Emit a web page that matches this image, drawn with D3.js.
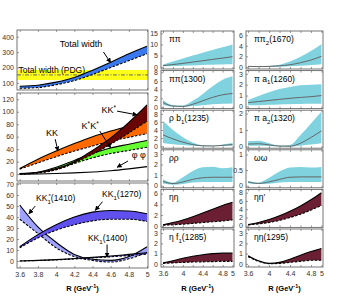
<!DOCTYPE html>
<html><head><meta charset="utf-8">
<script src="https://cdn.jsdelivr.net/npm/d3@7"></script>
<style>body{margin:0;background:#fff}svg{display:block;font-family:"Liberation Sans",Arial,sans-serif}</style>
</head><body><svg id="c" width="337" height="301"></svg>
<script>
// R grid (GeV^-1)
const R = [3.6, 3.8, 4.0, 4.2, 4.4, 4.6, 4.8, 5.0];
const xTicks = [3.6, 3.8, 4.0, 4.2, 4.4, 4.6, 4.8, 5.0];
const xLabsWide = ["3.6", "3.8", "4", "4.2", "4.4", "4.6", "4.8", "5"];
const xLabsNarrow = ["3.6", "", "4", "", "4.4", "", "4.8", "5"];

// left top: total width
const totUp = [78, 85, 105, 135, 183, 235, 290, 338];
const totLo = [65, 70, 88, 115, 155, 200, 245, 290];
const pdgRange = [119, 184];
const pdgMid = 152;

// left middle
const kkUp = [9, 24, 37, 49, 60, 69, 77, 85];
const kkLo = [8, 18, 28, 37, 45, 53, 59, 65];
const kkStUp = [1, 3, 9, 20, 38, 58, 83, 111];
const kkStLo = [0, 2, 7, 18, 32, 48, 66, 85];
const kStkStUp = [0.5, 3, 11, 22, 33, 42, 48, 54];
const kStkStLo = [0, 2, 7, 17, 26, 33, 38, 43];
const phiphi = [0, 0.3, 1, 2, 3.5, 5.5, 8.5, 12];

// left bottom
const kk1270Up = [13, 24, 33, 40, 44.5, 46, 45.5, 43];
const kk1270Lo = [12, 21, 28, 33, 36.5, 38, 38, 36];
const kk1410Up = [51, 31, 17, 6, 1.5, 0.5, 4, 13];
const kk1410Lo = [38, 25, 12, 4, 0.5, -1, 2, 8];
const kk1400Up = [0, 0.5, 1.2, 2.2, 3.3, 4.5, 6, 7.5];
const kk1400Lo = [0, 0.4, 1, 1.8, 2.8, 3.8, 5, 6.3];

// middle column
const pipiUp = [1, 2.3, 3.7, 5, 6.3, 7.5, 8.7, 10];
const pipiC = [0.5, 1, 1.5, 2.1, 2.7, 3.3, 3.9, 4.5];
const pipiLo = [0.2, 0.3, 0.5, 0.6, 0.8, 0.9, 1, 1.1];
const pi1300Up = [1.6, 0.4, 0.3, 1.4, 3, 4.8, 6.3, 7.1];
const pi1300C = [1, 0.2, 0.1, 0.6, 1.4, 2.2, 2.8, 3.1];
const pi1300Lo = [0.5, 0.05, 0, 0.2, 0.4, 0.6, 0.7, 0.8];
const rhob1Up = [6.2, 4, 2.2, 0.9, 0.2, 0.1, 0.4, 0.8];
const rhob1C = [2.8, 1.8, 1, 0.4, 0.1, 0.05, 0.2, 0.4];
const rhob1Lo = [0.8, 0.5, 0.3, 0.1, 0, 0, 0.05, 0.1];
const rhorhoUp = [0.6, 0.3, 0.8, 1.4, 1.75, 1.8, 1.65, 1.75];
const rhorhoC = [0.4, 0.2, 0.35, 0.6, 0.75, 0.8, 0.8, 0.8];
const rhorhoLo = [0.2, 0.1, 0.15, 0.3, 0.35, 0.35, 0.35, 0.35];
const etaetaUp = [0.2, 0.6, 1.1, 1.7, 2.4, 3.1, 3.8, 4.4];
const etaetaLo = [0.1, 0.2, 0.3, 0.45, 0.6, 0.75, 0.9, 1.1];
const etaf1Up = [0.1, 0.3, 0.55, 0.75, 0.9, 1, 1.05, 1.05];
const etaf1Lo = [0.05, 0.1, 0.15, 0.18, 0.2, 0.22, 0.25, 0.25];

// right column
const pi1670Up = [0.1, 0.1, 0.15, 0.4, 1, 1.9, 3, 4.3];
const pi1670C = [0.1, 0.05, 0.1, 0.2, 0.4, 0.8, 1.3, 2];
const pi1670Lo = [0, 0, 0, 0.05, 0.1, 0.2, 0.35, 0.5];
const pia1Up = [0.6, 0.95, 1.3, 1.6, 1.8, 1.95, 2, 2.05];
const pia1C = [0.35, 0.45, 0.55, 0.65, 0.75, 0.83, 0.9, 1];
const pia1Lo = [0.1, 0.12, 0.15, 0.18, 0.2, 0.22, 0.24, 0.25];
const pia2Up = [0.32, 0.35, 0.2, 0.06, 0.1, 0.7, 1.4, 2.1];
const pia2C = [0.15, 0.17, 0.1, 0.03, 0.02, 0.2, 0.55, 0.95];
const pia2Lo = [0.05, 0.05, 0.04, 0.01, 0, 0.05, 0.12, 0.2];
const omegaUp = [0.15, 0.1, 0.25, 0.45, 0.58, 0.6, 0.58, 0.6];
const omegaC = [0.12, 0.07, 0.12, 0.2, 0.27, 0.28, 0.28, 0.28];
const omegaLo = [0.08, 0.05, 0.06, 0.1, 0.12, 0.12, 0.12, 0.12];
const etaetapUp = [0.3, 0.8, 1.5, 2.4, 3.5, 4.8, 6.3, 8];
const etaetapLo = [0.2, 0.45, 0.8, 1.3, 2, 2.8, 3.8, 4.9];
const eta1295Up = [0.8, 0.3, 0.05, 0.15, 0.45, 0.85, 1.2, 1.5];
const eta1295Lo = [0.7, 0.25, 0.02, 0.05, 0.15, 0.25, 0.35, 0.35];

const svg = d3.select("#c");
const defs = svg.append("defs");
defs.append("marker").attr("id", "ah").attr("viewBox", "0 0 10 10")
  .attr("refX", 9).attr("refY", 5).attr("markerWidth", 5).attr("markerHeight", 5)
  .attr("orient", "auto").append("path").attr("d", "M0,0L10,5L0,10z").attr("fill", "#000");

let clipN = 0;
function panel(x0, x1, y0, y1, xdom, ydom, yticks, ylabs, xlabs) {
  const x = d3.scaleLinear().domain(xdom).range([x0, x1]);
  const y = d3.scaleLinear().domain(ydom).range([y1, y0]);
  const id = "cl" + (clipN++);
  defs.append("clipPath").attr("id", id).append("rect")
    .attr("x", x0).attr("y", y0).attr("width", x1 - x0).attr("height", y1 - y0);
  const g = svg.append("g");
  const plot = g.append("g").attr("clip-path", `url(#${id})`);

  const ya = g.append("g").attr("transform", `translate(${x0},0)`)
    .call(d3.axisLeft(y).tickValues(yticks).tickSize(-2).tickPadding(3)
      .tickFormat((d, i) => ylabs ? ylabs[i] : d));
  const xb = g.append("g").attr("transform", `translate(0,${y1})`)
    .call(d3.axisBottom(x).tickValues(xTicks).tickSize(-2).tickPadding(4)
      .tickFormat((d, i) => xlabs ? xlabs[i] : ""));
  const xt = g.append("g").attr("transform", `translate(0,${y0})`)
    .call(d3.axisTop(x).tickValues(xTicks).tickSize(-2).tickFormat(""));
  [ya, xb, xt].forEach(a => {
    a.select(".domain").remove();
    a.selectAll("line").attr("stroke", "#555").attr("stroke-width", 0.6);
    a.selectAll("text").attr("font-size", 7).attr("fill", "#333")
      .attr("font-family", "Liberation Sans, Arial, sans-serif");
  });
  const frame = g.append("rect").attr("x", x0).attr("y", y0)
    .attr("width", x1 - x0).attr("height", y1 - y0)
    .attr("fill", "none").attr("stroke", "#666").attr("stroke-width", 0.9);
  return { g, plot, x, y, frame };
}

function pts(lo, up) { return R.map((r, i) => ({ r, lo: lo[i], up: up[i] })); }

function band(p, lo, up, fill, edges) {
  const data = pts(lo, up);
  p.plot.append("path").datum(data).attr("fill", fill)
    .attr("d", d3.area().x(d => p.x(d.r)).y0(d => p.y(d.lo)).y1(d => p.y(d.up)).curve(d3.curveMonotoneX));
  if (edges) {
    line(p, up, "#000", 1.1, null);
    line(p, lo, "#000", 1.1, "2.5,1.5");
  }
}

function line(p, vals, color, w, dash) {
  p.plot.append("path").datum(R.map((r, i) => ({ r, v: vals[i] })))
    .attr("fill", "none").attr("stroke", color).attr("stroke-width", w)
    .attr("stroke-dasharray", dash)
    .attr("d", d3.line().x(d => p.x(d.r)).y(d => p.y(d.v)).curve(d3.curveMonotoneX));
}

// rich text: parts = [[text, "n"|"sub"|"sup"]]
function rich(sel, x, y, parts, size, anchor) {
  const t = sel.append("text").attr("x", x).attr("y", y).attr("font-size", size)
    .attr("fill", "#000").attr("text-anchor", anchor || "start");
  let shift = 0;
  parts.forEach(([s, k]) => {
    const target = k === "sub" ? size * 0.3 : k === "sup" ? -size * 0.38 : 0;
    t.append("tspan").attr("dy", target - shift)
      .attr("font-size", k === "n" ? size : size * 0.72).text(s);
    shift = target;
  });
  return t;
}

function arrow(p, a, b) {
  p.g.append("line").attr("x1", p.x(a[0])).attr("y1", p.y(a[1]))
    .attr("x2", p.x(b[0])).attr("y2", p.y(b[1]))
    .attr("stroke", "#000").attr("stroke-width", 1).attr("marker-end", "url(#ah)");
}

const LX = [3.57, 5.01];
// ---- left column
const p1 = panel(17, 148, 30, 90, LX, [54, 444], [100, 200, 300, 400], null, null);
p1.plot.append("rect").attr("x", 17).attr("width", 131)
  .attr("y", p1.y(pdgRange[1])).attr("height", p1.y(pdgRange[0]) - p1.y(pdgRange[1]))
  .attr("fill", "#ffff1a");
p1.plot.append("line").attr("x1", 17).attr("x2", 148).attr("y1", p1.y(pdgMid)).attr("y2", p1.y(pdgMid))
  .attr("stroke", "#666").attr("stroke-width", 1).attr("stroke-dasharray", "4,1.5,1,1.5");
band(p1, totLo, totUp, "#3a78ee", true);
rich(p1.g, p1.x(4.04), p1.y(334), [["Total width", "n"]], 9);
rich(p1.g, p1.x(3.586), p1.y(165), [["Total width (PDG)", "n"]], 8.5);
arrow(p1, [4.52, 301], [4.6, 232]);

const p2 = panel(17, 148, 93, 181, LX, [-11, 130], [0, 20, 40, 60, 80, 100, 120], null, null);
band(p2, kkLo, kkUp, "#ff6a00", true);
band(p2, kStkStLo, kStkStUp, "#66ff33", true);
band(p2, kkStLo, kkStUp, "#6a0505", true);
line(p2, phiphi, "#000", 1.1, null);
rich(p2.g, p2.x(3.89), p2.y(61), [["KK", "n"]], 9);
arrow(p2, [3.99, 56], [4.02, 37]);
rich(p2.g, p2.x(4.28), p2.y(72), [["K", "n"], ["*", "sup"], ["K", "n"], ["*", "sup"]], 9);
arrow(p2, [4.48, 69], [4.6, 42]);
rich(p2.g, p2.x(4.5), p2.y(98), [["KK", "n"], ["*", "sup"]], 9);
arrow(p2, [4.67, 101], [4.89, 95]);
rich(p2.g, p2.x(4.83), p2.y(26), [["φ φ", "n"]], 9);
arrow(p2, [4.79, 21], [4.67, 11]);

const p3 = panel(17, 148, 183, 268, LX, [-6.4, 71], [0, 10, 20, 30, 40, 50, 60, 70], null, xLabsWide);
band(p3, kk1410Lo, kk1410Up, "#a0a2ff", true);
band(p3, kk1270Lo, kk1270Up, "#6050ee", true);
band(p3, kk1400Lo, kk1400Up, "#6050ee", true);
rich(p3.g, p3.x(3.78), p3.y(54.5), [["KK", "n"], ["1", "sub"], ["(1410)", "n"]], 8.5);
p3.g.append("text").attr("x", p3.x(3.78) + 12.5).attr("y", p3.y(54.5) - 3.5).attr("font-size", 6).text("*");
arrow(p3, [3.77, 50], [3.7, 43]);
rich(p3.g, p3.x(4.505), p3.y(58), [["KK", "n"], ["1", "sub"], ["(1270)", "n"]], 8.5);
arrow(p3, [4.51, 54], [4.43, 46]);
rich(p3.g, p3.x(4.35), p3.y(18), [["KK", "n"], ["1", "sub"], ["(1400)", "n"]], 8.5);
arrow(p3, [4.56, 15], [4.56, 3.5]);

// ---- small panels
const MX = [3.56, 5.03];
const tops = [31, 70.6, 110.2, 149.8, 189.4, 229];
const H = 38;
function small(col, i, ydom, yt, ylabs, label) {
  const [x0, x1] = col === 0 ? [161, 234] : [246, 323];
  const p = panel(x0, x1, tops[i], tops[i] + H, MX, ydom, yt, ylabs, i === 5 ? xLabsNarrow : null);
  rich(p.g, x0 + 8, tops[i] + 11, label, 8.5);
  return p;
}
const CY = "#80d2df";
function cyan(p, lo, c, up) { band(p, lo, up, CY, false); line(p, c, "#666", 1, null); }

let q;
q = small(0, 0, [-1, 16], [0, 5, 10, 15], null, [["ππ", "n"]]);
cyan(q, pipiLo, pipiC, pipiUp);
q = small(0, 1, [-0.4, 8.4], [0, 2, 4, 6, 8], null, [["ππ(1300)", "n"]]);
cyan(q, pi1300Lo, pi1300C, pi1300Up);
q = small(0, 2, [-0.5, 8.9], [0, 2, 4, 6, 8], null, [["ρ b", "n"], ["1", "sub"], ["(1235)", "n"]]);
cyan(q, rhob1Lo, rhob1C, rhob1Up);
q = small(0, 3, [-0.2, 3.4], [0, 1, 2, 3], null, [["ρρ", "n"]]);
cyan(q, rhorhoLo, rhorhoC, rhorhoUp);
q = small(0, 4, [-0.3, 6.8], [0, 2, 4, 6], null, [["ηη", "n"]]);
band(q, etaetaLo, etaetaUp, "#6a2032", true);
q = small(0, 5, [-0.3, 3.4], [0, 1, 2, 3], null, [["η f", "n"], ["1", "sub"], ["(1285)", "n"]]);
band(q, etaf1Lo, etaf1Up, "#6a2032", true);

q = small(1, 0, [-0.4, 6.8], [0, 2, 4, 6], null, [["ππ", "n"], ["2", "sub"], ["(1670)", "n"]]);
cyan(q, pi1670Lo, pi1670C, pi1670Up);
q = small(1, 1, [-0.2, 3.3], [0, 1, 2, 3], null, [["π a", "n"], ["1", "sub"], ["(1260)", "n"]]);
cyan(q, pia1Lo, pia1C, pia1Up);
q = small(1, 2, [-0.1, 2.2], [0, 1, 2], null, [["π a", "n"], ["2", "sub"], ["(1320)", "n"]]);
cyan(q, pia2Lo, pia2C, pia2Up);
q = small(1, 3, [-0.07, 1.15], [0, 0.5, 1], ["0", "0.5", "1"], [["ωω", "n"]]);
cyan(q, omegaLo, omegaC, omegaUp);
q = small(1, 4, [-0.4, 8.8], [0, 2, 4, 6, 8], null, [["ηη′", "n"]]);
band(q, etaetapLo, etaetapUp, "#6a2032", true);
q = small(1, 5, [-0.3, 3.4], [0, 1, 2, 3], null, [["ηη(1295)", "n"]]);
band(q, eta1295Lo, eta1295Up, "#6a2032", true);

// axis titles
[82.5, 197.5, 284.5].forEach(cx => {
  rich(svg, cx, 291, [["R (GeV", "n"], ["-1", "sup"], [")", "n"]], 7.5, "middle")
    .attr("font-weight", "bold");
});
</script></body></html>
